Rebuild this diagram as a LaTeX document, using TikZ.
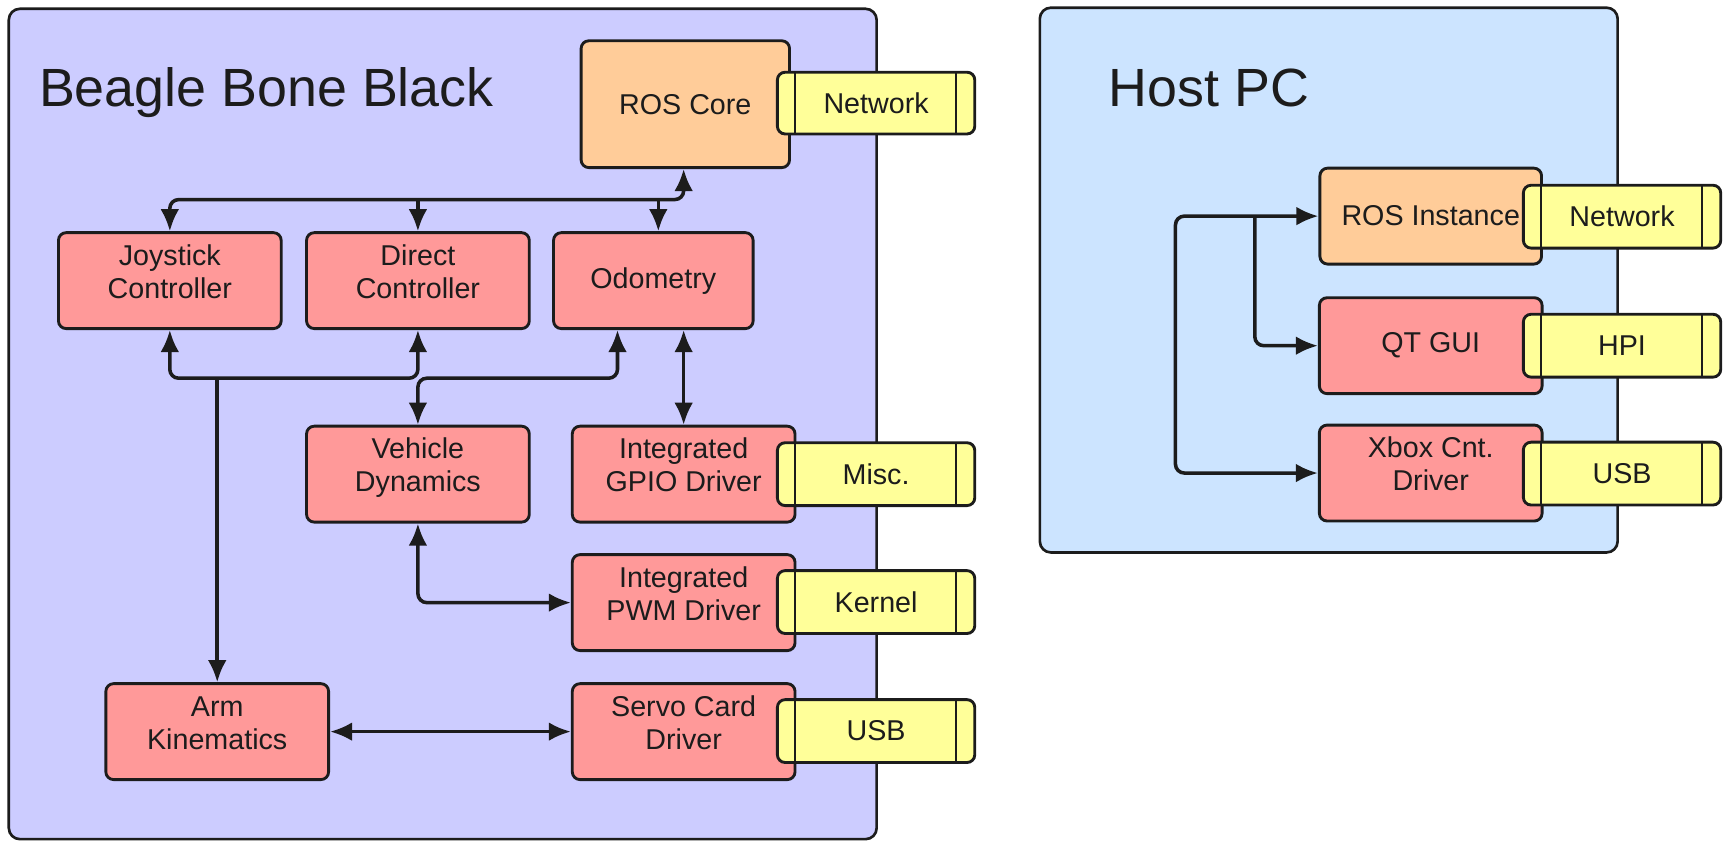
\documentclass[tikz,border=0pt]{standalone}
\usepackage{fontspec}
\setmainfont{Liberation Sans}
\usetikzlibrary{arrows.meta,calc}
\definecolor{bbbfill}{HTML}{CCCCFF}
\definecolor{hostfill}{HTML}{CCE4FF}
\definecolor{orfill}{HTML}{FFCC99}
\definecolor{redfill}{HTML}{FF9999}
\definecolor{yelfill}{HTML}{FFFF99}
\definecolor{edge}{HTML}{1C1C1C}
\newcommand\twol[2]{\raisebox{2.5pt}[\height][\depth]{\begin{tabular}{@{}c@{}}#1\\#2\end{tabular}}}
\tikzset{
  frame/.style={draw=edge, line width=1.2pt, rounded corners=5pt},
  blk/.style={draw=edge, line width=1.3pt, rounded corners=3.5pt, align=center,
    font=\fontsize{13}{15}\selectfont, inner sep=0pt, text=edge},
  redbox/.style={blk, fill=redfill, minimum width=101pt, minimum height=43.5pt},
  orbox/.style={blk, fill=orfill},
  ybox/.style={blk, fill=yelfill, minimum width=89.5pt, minimum height=28.5pt,
    path picture={
      \draw[edge, line width=1.3pt] ([xshift=8pt]path picture bounding box.north west) -- ([xshift=8pt]path picture bounding box.south west);
      \draw[edge, line width=1.3pt] ([xshift=-8.5pt]path picture bounding box.north east) -- ([xshift=-8.5pt]path picture bounding box.south east);
    }},
  title/.style={font=\fontsize{24.4}{28}\selectfont, text=edge, anchor=base west, inner sep=0pt},
  conn/.style={draw=edge, line width=1.6pt, rounded corners=4pt},
  tip/.style={-{Latex[length=10pt,width=8.5pt]}},
  tips/.style={{Latex[length=10pt,width=8.5pt]}-{Latex[length=10pt,width=8.5pt]}},
}
\begin{document}
\begin{tikzpicture}[x=0.5pt,y=-0.5pt]
\useasboundingbox (0,0) rectangle (1568,763.6);
% containers
\path[frame, fill=bbbfill] (8,8) rectangle (795,761);
\path[frame, fill=hostfill] (943,7) rectangle (1467,501);
\node[title] (tbbb) at (35,97) {Beagle Bone Black};
\node[title] (thost) at (1005,97) {Host PC};
% BBB nodes
\node[orbox, minimum width=94.5pt, minimum height=57.5pt] (ros) at (621.5,94.5) {ROS Core};
\node[redbox] (joy) at (154,254.5) {\twol{Joystick}{Controller}};
\node[redbox] (dir) at (379,254.5) {\twol{Direct}{Controller}};
\node[redbox, minimum width=90.5pt] (odo) at (592.5,254.5) {Odometry};
\node[redbox] (vd) at (379,430) {\twol{Vehicle}{Dynamics}};
\node[redbox] (gpio) at (620,430) {\twol{Integrated}{GPIO Driver}};
\node[redbox] (pwm) at (620,546.5) {\twol{Integrated}{PWM Driver}};
\node[redbox] (arm) at (197,663.5) {\twol{Arm}{Kinematics}};
\node[redbox] (servo) at (620,663.5) {\twol{Servo Card}{Driver}};
\node[ybox, minimum height=28pt] (netA) at (794.5,93.5) {Network};
\node[ybox] (misc) at (794.5,430) {Misc.};
\node[ybox] (kern) at (794.5,546) {Kernel};
\node[ybox] (usbA) at (794.5,663) {USB};
% Host nodes
\node[orbox, minimum width=100.5pt, minimum height=43.5pt] (rosi) at (1297.5,196) {ROS Instance};
\node[redbox] (qt) at (1297.5,313.5) {QT GUI};
\node[redbox] (xbox) at (1297.5,429) {\twol{Xbox Cnt.}{Driver}};
\node[ybox] (netB) at (1471,196.5) {Network};
\node[ybox] (hpi) at (1471,313.5) {HPI};
\node[ybox] (usbB) at (1471,429.5) {USB};
% coordinates
\coordinate (ta) at (620,181);
\coordinate (tj) at (154,181);
\coordinate (td) at (379,181);
\coordinate (to) at (597,181);
\coordinate (bj) at (154,343);
\coordinate (bd) at (379,343);
\coordinate (bo) at (560,343);
\coordinate (ba) at (197,343);
\coordinate (hv) at (1066,196);
\coordinate (hq) at (1138,196);
% BBB connectors
\draw[conn, tips] (ros.south -| ta) -- (ta) -| (joy.north);
\draw[conn, tip] (td) -- (dir.north);
\draw[conn, tip] (to) -- (odo.north -| to);
\draw[conn, tips] (joy.south) -- (bj) -- (bd) -- (dir.south);
\draw[conn, tips] (vd.north) -- (bd) -- (bo) -- (odo.south -| bo);
\draw[conn, tip] (ba) -- (arm.north);
\draw[conn, tips] (odo.south -| gpio.north) -- (gpio.north);
\draw[conn, tips] (vd.south) |- (pwm.west);
\draw[conn, tips] (arm.east) -- (servo.west);
% Host connectors
\draw[conn, tips] (rosi.west) -- (hv) |- (xbox.west);
\draw[conn, tip] (hq) |- (qt.west);
\end{tikzpicture}
\end{document}
